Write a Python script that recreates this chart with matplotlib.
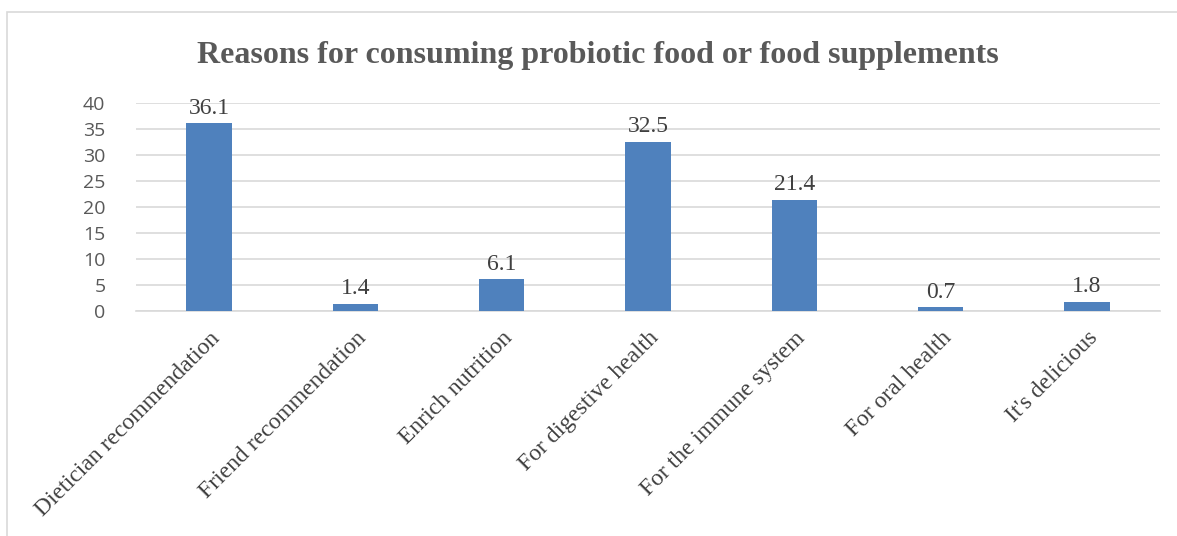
import matplotlib.pyplot as plt
from matplotlib.patches import Rectangle

categories = ['Dietician recommendation', 'Friend recommendation', 'Enrich nutrition',
              'For digestive health', 'For the immune system', 'For oral health', "It's delicious"]
values = [36.1, 1.4, 6.1, 32.5, 21.4, 0.7, 1.8]
yticks = [0, 5, 10, 15, 20, 25, 30, 35, 40]

serif = ['Liberation Serif', 'DejaVu Serif']
sans = ['Open Sans', 'DejaVu Sans']

fig = plt.figure(figsize=(11.77, 5.36), dpi=100)
ax = fig.add_axes([136 / 1177, 1 - 311 / 536, 1024 / 1177, 208 / 536])

x = range(len(categories))
ax.bar(x, values, width=0.31, color='#4F81BD', zorder=3)
for i, v in enumerate(values):
    ax.text(i, v + 0.9, f'{v:.1f}', ha='center', va='bottom', fontsize=17,
            family=serif, color='#404040')

ax.set_xlim(-0.5, len(categories) - 0.5)
ax.set_ylim(0, 40)
ax.set_yticks(yticks)
ax.set_yticklabels([str(t) for t in yticks], family=sans, fontsize=14, color='#595959')
ax.set_xticks(list(x))
ax.set_xticklabels(categories, rotation=45, ha='right', rotation_mode='anchor',
                   family=serif, fontsize=17, color='#404040')
ax.tick_params(axis='both', length=0)
ax.tick_params(axis='y', pad=22)
ax.tick_params(axis='x', pad=12)
ax.grid(axis='y', color='#D9D9D9', linewidth=1.2, zorder=0)
for s in ['top', 'right', 'left']:
    ax.spines[s].set_visible(False)
ax.spines['bottom'].set_color('#D9D9D9')
ax.spines['bottom'].set_linewidth(1.2)

fig.text(598 / 1177, 1 - 55 / 536, 'Reasons for consuming probiotic food or food supplements',
         ha='center', va='center', fontsize=23, fontweight='bold', family=serif, color='#595959')

fig.patches.append(Rectangle((7 / 1177, -0.1), 1.2, 1.1 - 12 / 536,
                             transform=fig.transFigure, fill=False,
                             edgecolor='#D9D9D9', linewidth=1.2))

fig.savefig('out.png', dpi=100)
